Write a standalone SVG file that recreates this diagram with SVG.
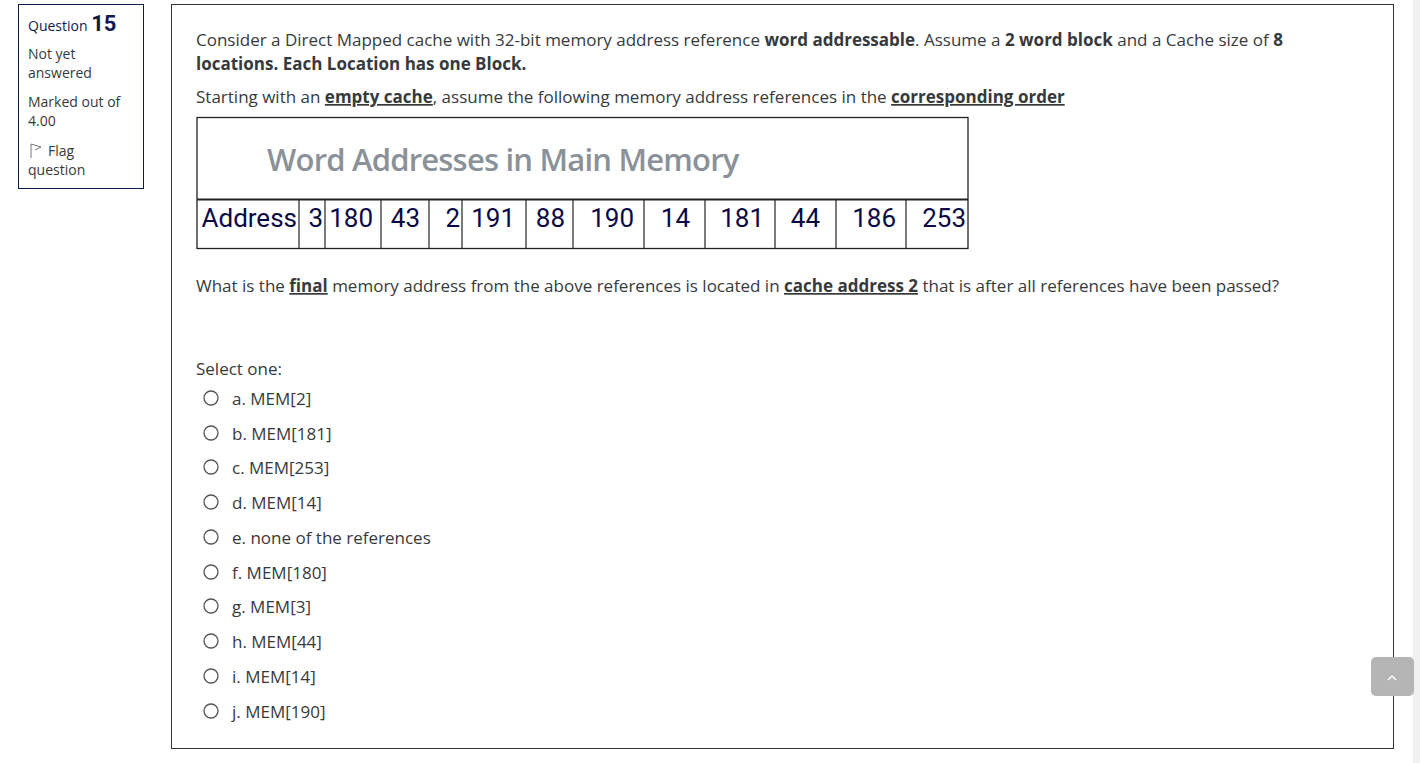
<svg xmlns="http://www.w3.org/2000/svg" width="1420" height="763" viewBox="0 0 1420 763">
<style>
.t{font-family:"Open Sans",sans-serif;font-size:17px;fill:#373a3c}
.s{font-family:"Open Sans",sans-serif;font-size:14px;fill:#373a3c}
.b{font-weight:bold}
.u{text-decoration:underline}
.n{font-family:Roboto,sans-serif;font-size:26px;fill:#0a0a46}
.c{fill:#fff;stroke:#555;stroke-width:1.3}
</style>
<rect width="1420" height="763" fill="#fff"/>
<rect x="1413" y="0" width="7" height="763" fill="#f0f0f0"/>
<g id="info">
<rect x="18.5" y="4.5" width="125" height="184" fill="#fff" stroke="#0f1b4f"/>
<text x="28" y="31" class="s" style="fill:#0f1b4f">Question <tspan style="font-family:Roboto,sans-serif;font-size:22px;font-weight:bold">15</tspan></text>
<text class="s"><tspan x="28" y="59">Not yet</tspan><tspan x="28" y="78">answered</tspan><tspan x="28" y="107">Marked out of</tspan><tspan x="28" y="126">4.00</tspan><tspan x="48" y="156">Flag</tspan><tspan x="28" y="175">question</tspan></text>
<path d="M31 158V144l10 3-6 3" fill="none" stroke="#777" stroke-width="1"/>
</g>
<g id="question">
<rect x="171.5" y="4.5" width="1222" height="744" fill="#fff" stroke="#333"/>
<text class="t"><tspan x="196" y="46">Consider a Direct Mapped cache with 32-bit memory address reference <tspan class="b">word addressable</tspan>. Assume a <tspan class="b">2 word block</tspan> and a Cache size of <tspan class="b">8</tspan></tspan><tspan x="196" y="70" class="b">locations. Each Location has one Block.</tspan></text>
<text x="196" y="103" class="t">Starting with an <tspan class="b u">empty cache</tspan>, assume the following memory address references in the <tspan class="b u">corresponding order</tspan></text>
<g id="table">
<rect x="197" y="117.5" width="771" height="131" fill="#fff" stroke="#222" stroke-width="1.3"/>
<line x1="197" y1="199.5" x2="968" y2="199.5" stroke="#222" stroke-width="2"/>
<text x="267" y="171" style="font-family:'Open Sans',sans-serif;font-size:31px;fill:#8a9199;font-weight:600;letter-spacing:-0.8px">Word Addresses in Main Memory</text>
<g stroke="#222" stroke-width="1.2">
<line x1="299" y1="200" x2="299" y2="248"/><line x1="325" y1="200" x2="325" y2="248"/><line x1="381" y1="200" x2="381" y2="248"/><line x1="429" y1="200" x2="429" y2="248"/><line x1="462" y1="200" x2="462" y2="248"/><line x1="526" y1="200" x2="526" y2="248"/><line x1="573" y1="200" x2="573" y2="248"/><line x1="644" y1="200" x2="644" y2="248"/><line x1="705" y1="200" x2="705" y2="248"/><line x1="775" y1="200" x2="775" y2="248"/><line x1="836" y1="200" x2="836" y2="248"/><line x1="906" y1="200" x2="906" y2="248"/>
</g>
<g class="n" text-anchor="end">
<text x="297" y="227">Address</text><text x="323" y="227">3</text><text x="373" y="227">180</text><text x="420" y="227">43</text><text x="460" y="227">2</text><text x="515" y="227">191</text><text x="565" y="227">88</text><text x="634" y="227">190</text><text x="690" y="227">14</text><text x="764" y="227">181</text><text x="820" y="227">44</text><text x="896" y="227">186</text><text x="966" y="227">253</text>
</g>
</g>
<text x="196" y="292" class="t">What is the <tspan class="b u">final</tspan> memory address from the above references is located in <tspan class="b u">cache address 2</tspan> that is after all references have been passed?</text>
<text x="196" y="375" class="t">Select one:</text>
<g id="options">
<circle cx="211" cy="398" r="7" class="c"/><text x="232" y="405" class="t">a. MEM[2]</text>
<circle cx="211" cy="433" r="7" class="c"/><text x="232" y="440" class="t">b. MEM[181]</text>
<circle cx="211" cy="467" r="7" class="c"/><text x="232" y="474" class="t">c. MEM[253]</text>
<circle cx="211" cy="502" r="7" class="c"/><text x="232" y="509" class="t">d. MEM[14]</text>
<circle cx="211" cy="537" r="7" class="c"/><text x="232" y="544" class="t">e. none of the references</text>
<circle cx="211" cy="572" r="7" class="c"/><text x="232" y="579" class="t">f. MEM[180]</text>
<circle cx="211" cy="606" r="7" class="c"/><text x="232" y="613" class="t">g. MEM[3]</text>
<circle cx="211" cy="641" r="7" class="c"/><text x="232" y="648" class="t">h. MEM[44]</text>
<circle cx="211" cy="676" r="7" class="c"/><text x="232" y="683" class="t">i. MEM[14]</text>
<circle cx="211" cy="711" r="7" class="c"/><text x="232" y="718" class="t">j. MEM[190]</text>
</g>
</g>
<g id="totop">
<rect x="1371" y="657" width="43" height="39" rx="5" fill="#b5b5b5"/>
<path d="M1388 680l4-4 4 4" fill="none" stroke="#fff" stroke-width="1.5"/>
</g>
</svg>
